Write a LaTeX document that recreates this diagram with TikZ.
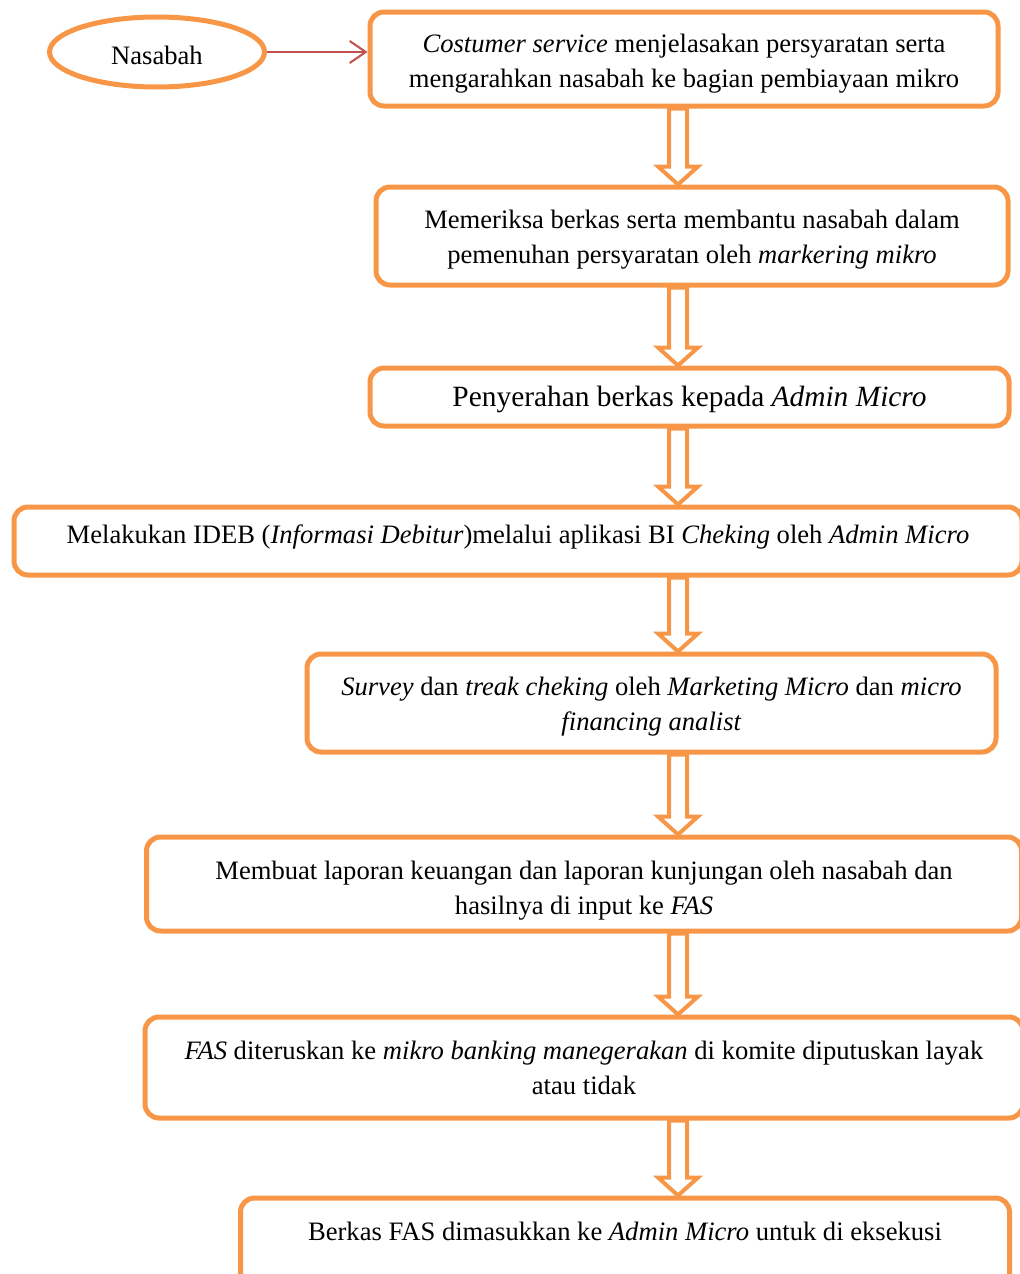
\documentclass[tikz,border=0pt]{standalone}
\usepackage{fontspec}
\setmainfont{Liberation Serif}
\usetikzlibrary{arrows.meta,calc,shapes.geometric}
\definecolor{boxorange}{HTML}{F79646}
\definecolor{linkred}{HTML}{C0504D}
% hollow down arrow from #1 to #2
\newcommand{\blockarrow}[2]{%
\draw[hollow] ($(#1)+(-9,0)$) -- ($(#2)+(-9,-18)$) -- ($(#2)+(-20,-18)$) -- (#2)
  -- ($(#2)+(20,-18)$) -- ($(#2)+(9,-18)$) -- ($(#1)+(9,0)$) -- cycle;}
% first line height, pushes text down
\newcommand{\topline}[1]{\rule{0pt}{#1}}

\begin{document}
\begin{tikzpicture}[x=0.5pt,y=-0.5pt,font=\fontsize{13.3}{17.5}\selectfont]
\tikzstyle{block} = [rectangle, draw=boxorange, line width=2.5pt, rounded corners=7pt,
align=center, inner sep=0pt]
\tikzstyle{start} = [ellipse, draw=boxorange, line width=2.5pt, inner sep=0pt]
\tikzstyle{hollow} = [draw=boxorange, line width=2pt, line join=miter]
\tikzstyle{link} = [draw=linkred, line width=1pt, -{Straight Barb[length=8pt,width=11pt]}]

\useasboundingbox (0,0) rectangle (1019,1274);

% row 1
\node[start, minimum width=107.5pt, minimum height=35pt] (nas) at (157,52)
{\topline{12.4pt}Nasabah};
\node[block, minimum width=314pt, minimum height=47pt] (cs) at (684,59)
{\topline{13.7pt}\textit{Costumer service} menjelasakan persyaratan serta\\
mengarahkan nasabah ke bagian pembiayaan mikro};
% steps
\node[block, minimum width=316pt, minimum height=49pt] (check) at (692,236)
{\topline{13.2pt}Memeriksa berkas serta membantu nasabah dalam\\
pemenuhan persyaratan oleh \textit{markering mikro}};
\node[block, minimum width=319.5pt, minimum height=29pt,
font=\fontsize{14.7}{18}\selectfont] (hand) at (689.5,397)
{\topline{12.4pt}Penyerahan berkas kepada \textit{Admin Micro}};
\node[block, minimum width=504pt, minimum height=34pt] (ideb) at (518,541)
{Melakukan IDEB (\textit{Informasi Debitur})melalui aplikasi BI \textit{Cheking} oleh \textit{Admin Micro}\rule[-7.3pt]{0pt}{0pt}};
\node[block, minimum width=344.5pt, minimum height=49pt] (survey) at (651.5,703)
{\topline{12.9pt}\textit{Survey} dan \textit{treak cheking} oleh \textit{Marketing Micro} dan \textit{micro}\\
\textit{financing analist}};
\node[block, minimum width=437.5pt, minimum height=47pt] (report) at (584,884)
{\topline{15.7pt}Membuat laporan keuangan dan laporan kunjungan oleh nasabah dan\\
hasilnya di input ke \textit{FAS}};
\node[block, minimum width=439pt, minimum height=50.5pt] (fas) at (584,1067.5)
{\textit{FAS} diteruskan ke \textit{mikro banking manegerakan} di komite diputuskan layak\\
atau tidak};
\node[block, minimum width=384.5pt, minimum height=49pt] (exec) at (625,1247)
{\topline{16.7pt}Berkas FAS dimasukkan ke \textit{Admin Micro} untuk di eksekusi\\ \strut};

\coordinate (ax) at (678,0);
\path[link] (nas.east) -- (nas.east -| cs.west);
\blockarrow{cs.south -| ax}{check.north -| ax}
\blockarrow{check.south -| ax}{hand.north -| ax}
\blockarrow{hand.south -| ax}{ideb.north -| ax}
\blockarrow{ideb.south -| ax}{survey.north -| ax}
\blockarrow{survey.south -| ax}{report.north -| ax}
\blockarrow{report.south -| ax}{fas.north -| ax}
\blockarrow{fas.south -| ax}{exec.north -| ax}
\end{tikzpicture}
\end{document}
